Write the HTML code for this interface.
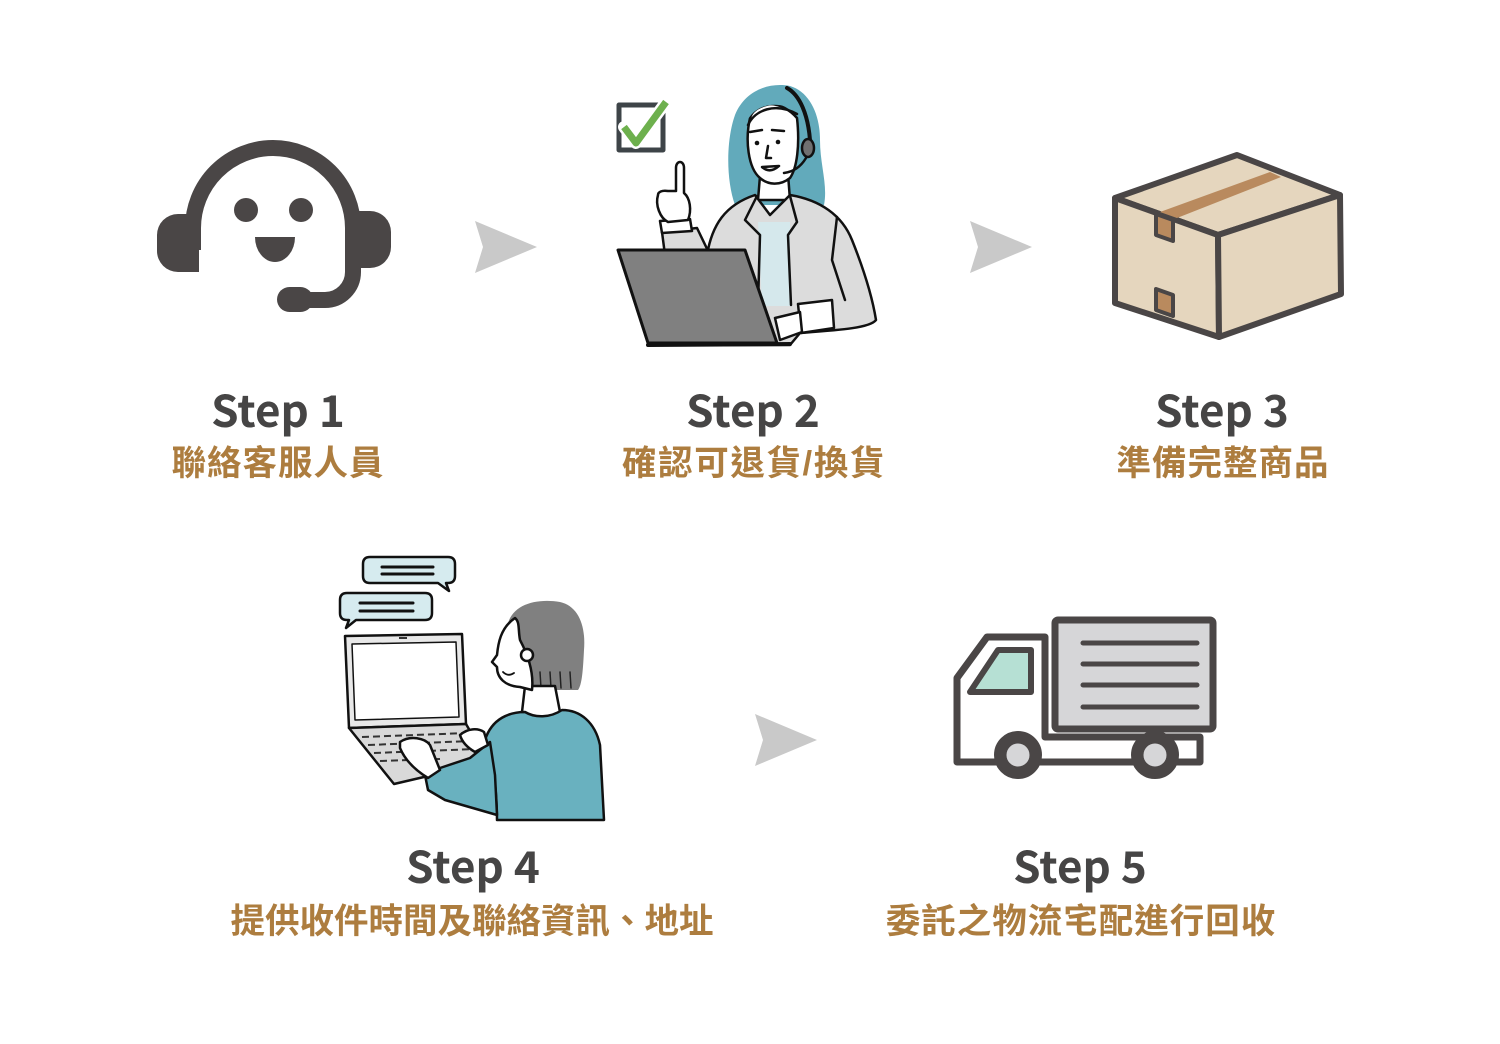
<!DOCTYPE html>
<html>
<head>
<meta charset="utf-8">
<style>
html,body{margin:0;padding:0;background:#fff;}
svg{display:block;}
.step{font-family:"Noto Sans CJK TC","Liberation Sans",sans-serif;font-weight:700;font-size:44px;fill:#464545;}
.zh{font-family:"Liberation Sans","Noto Sans CJK TC",sans-serif;font-weight:700;font-size:34.5px;fill:#ad7d3f;letter-spacing:1px;}
</style>
</head>
<body>
<svg width="1500" height="1044" viewBox="0 0 1500 1044" xmlns="http://www.w3.org/2000/svg">
<rect width="1500" height="1044" fill="#fff"/>

<!-- Step 1 headset -->
<g fill="#4a4646" stroke="none">
  <path d="M193,250 L193,228 A80,80 0 0 1 353,228 L353,272 A28,28 0 0 1 325,300 L300,300" fill="none" stroke="#4a4646" stroke-width="16"/>
  <rect x="277" y="287" width="36" height="25" rx="12.5"/>
  <path d="M199,214 L178,214 A21,21 0 0 0 157,235 L157,251 A21,21 0 0 0 178,272 L199,272 Z"/>
  <path d="M352,211 L370,211 A21,21 0 0 1 391,232 L391,247 A21,21 0 0 1 370,268 L352,268 Z"/>
  <circle cx="246" cy="210" r="12"/>
  <circle cx="301" cy="210" r="12"/>
  <path d="M255,237 L295,237 A20,25 0 0 1 255,237 Z"/>
</g>

<!-- arrows -->
<g fill="#c9c9c9">
  <polygon points="475,221 537,247 475,273 483,247"/>
  <polygon points="970,221 1032,247 970,273 978,247"/>
  <polygon points="755,714 817,740 755,766 763,740"/>
</g>

<!-- Step 2 woman -->
<g stroke="#111" stroke-width="2.5" stroke-linejoin="round" stroke-linecap="round">
  <rect x="619" y="105" width="44" height="45" fill="none" stroke="#3e4448" stroke-width="5" stroke-linecap="butt"/>
  <polyline points="624,127 636,143 666,102" fill="none" stroke="#fff" stroke-width="12"/>
  <polyline points="624,127 636,143 666,102" fill="none" stroke="#6db04d" stroke-width="7" stroke-linecap="butt"/>

  <path d="M735,205 C726,180 726,140 735,115 C745,90 770,82 790,86 C810,92 820,115 820,140 C820,165 828,185 824,205 Z" fill="#62aabb" stroke="none"/>
  <path d="M760,176 L758,200 L790,200 L788,174 Z" fill="#fff"/>
  <path d="M750,118 C745,140 748,168 760,178 C768,185 780,186 790,178 C797,168 800,145 797,118 C790,110 780,104 770,104 C760,106 752,110 750,118 Z" fill="#fff"/>
  <path d="M743,132 C748,108 770,96 800,112 L800,98 C780,86 752,92 743,112 Z" fill="#62aabb" stroke="none"/>
  <path d="M748,125 C755,110 775,102 797,114" fill="none"/>
  <circle cx="757" cy="143" r="2.3" fill="#111" stroke="none"/>
  <circle cx="778" cy="142" r="2.3" fill="#111" stroke="none"/>
  <path d="M750,132 L762,130 M772,130 L784,131" fill="none"/>
  <path d="M768,146 L766,158 L771,158" fill="none"/>
  <path d="M762,167 Q770,174 779,166 Z" fill="#fff"/>
  <path d="M787,88 C800,95 808,115 810,140" fill="none" stroke-width="4"/>
  <ellipse cx="808" cy="148" rx="6" ry="9" fill="#707070"/>
  <path d="M806,158 C800,168 792,172 784,173" fill="none"/>

  <path d="M707,255 C712,225 725,205 755,195 L770,215 L790,195 C820,200 842,215 852,240 C862,265 872,295 876,320 C870,328 840,330 800,333 L790,345 L707,345 Z" fill="#dcdcdc"/>
  <polygon points="758,222 790,222 790,306 762,306" fill="#d5e8ec" stroke="none"/>
  <path d="M757,196 L745,220 L760,235 L758,305 M790,196 L797,222 L788,235 L791,305" fill="none"/>
  <path d="M837,217 L832,260 L845,300" fill="none"/>
  <path d="M798,304 L832,300 L834,328 L801,333 Z" fill="#fff"/>
  <path d="M775,318 L800,312 L802,332 L780,340 Z" fill="#fff"/>

  <path d="M662,232 L697,228 L710,255 L665,255 Z" fill="#dcdcdc"/>
  <path d="M660,221 L690,219 L692,231 L662,233 Z" fill="#fff"/>
  <path d="M658,195 C655,205 660,218 668,222 L688,220 C692,210 690,198 684,193 L684,168 C684,160 676,160 676,168 L676,191 L668,191 C662,190 658,192 658,195 Z" fill="#fff"/>

  <polygon points="618,250 745,250 777,343 648,343" fill="#808080" stroke-width="3"/>
  <path d="M648,345 L790,344" fill="none" stroke-width="4"/>
</g>

<!-- Step 3 box -->
<g stroke="#4a4646" stroke-width="6" stroke-linejoin="round" fill="#e5d6be">
  <polygon points="1115,198 1237,155 1340,195 1218,235"/>
  <polygon points="1115,198 1218,235 1219,337 1115,303"/>
  <polygon points="1218,235 1340,195 1341,294 1219,337"/>
  <polygon points="1160,212 1177,218 1281,177 1270,172" fill="#b98a5e" stroke="none"/>
  <polygon points="1156,214 1173,220 1173,241 1156,235" fill="#b98a5e" stroke-width="4"/>
  <polygon points="1156,289 1173,295 1173,316 1156,310" fill="#b98a5e" stroke-width="4"/>
</g>

<!-- Step 4 person -->
<g stroke="#111" stroke-width="2.5" stroke-linejoin="round" stroke-linecap="round">
  <path d="M370,557 L448,557 Q455,557 455,564 L455,576 Q455,583 448,583 L446,583 L449,591 L438,583 L370,583 Q363,583 363,576 L363,564 Q363,557 370,557 Z" fill="#d6ebef"/>
  <path d="M382,567 L433,567 M382,574 L433,574" stroke-width="3"/>
  <path d="M347,593 L425,593 Q432,593 432,600 L432,613 Q432,620 425,620 L356,620 L346,628 L349,620 L347,620 Q340,620 340,613 L340,600 Q340,593 347,593 Z" fill="#d6ebef"/>
  <path d="M360,603 L413,603 M360,611 L413,611" stroke-width="3"/>

  <polygon points="345,636 462,634 466,724 349,728" fill="#e8e8e8"/>
  <polygon points="352,644 456,642 459,717 355,720" fill="#fff" stroke-width="1.5"/>
  <rect x="399" y="637" width="8" height="2" fill="#333" stroke="none"/>
  <polygon points="349,728 466,724 488,762 394,784" fill="#d9d9d9"/>
  <g stroke="#333" stroke-width="2" stroke-dasharray="7 4" fill="none" stroke-linecap="butt">
    <path d="M362,737 L468,733"/>
    <path d="M368,745 L472,741"/>
    <path d="M374,753 L476,749"/>
    <path d="M380,761 L440,759"/>
  </g>

  <path d="M507,628 C510,605 535,598 560,602 C578,606 586,625 584,650 C583,670 582,685 578,690 L532,690 C530,670 520,655 507,645 Z" fill="#808080" stroke="none"/>
  <path d="M540,672 L541,688 M550,672 L551,688 M560,672 L561,688 M570,672 L571,688" stroke="#222" stroke-width="1.5" fill="none"/>
  <path d="M525,686 L522,712 C535,720 550,718 560,712 L555,686 Z" fill="#fff"/>
  <path d="M515,618 C500,628 498,645 497,655 L492,662 L497,667 C497,678 505,686 520,687 L532,690 C534,672 528,655 520,640 C518,630 520,622 515,618 Z" fill="#fff"/>
  <circle cx="527" cy="655" r="6" fill="#fff"/>
  <path d="M503,672 Q508,677 514,673" fill="none" stroke-width="1.8"/>
  <path d="M485,740 C492,718 510,712 525,712 C535,718 550,718 562,710 C580,710 595,722 600,745 L604,820 L497,820 C497,800 495,780 492,760 Z" fill="#69b1bf"/>
  <path d="M490,742 L470,758 L440,768 L425,775 L428,790 L445,800 L497,815 L495,775 Z" fill="#69b1bf"/>
  <path d="M400,742 C410,735 425,738 430,745 L440,770 L428,778 C415,770 405,760 400,748 Z" fill="#fff"/>
  <path d="M460,735 C468,728 478,728 484,732 L488,745 L475,752 C468,748 462,742 460,735 Z" fill="#fff"/>
</g>

<!-- Step 5 truck -->
<g stroke="#4a4646" stroke-width="7" stroke-linejoin="round">
  <path d="M957,762 L957,678 L987,637 L1045,637 L1045,737 L1200,737 L1200,762 Z" fill="#fff"/>
  <rect x="1055" y="620" width="158" height="109" rx="3" fill="#d6d6d8"/>
  <path d="M1083,643 L1197,643 M1083,664 L1197,664 M1083,685 L1197,685 M1083,707 L1197,707" stroke-width="5" stroke-linecap="round"/>
  <polygon points="970,692 998,650 1031,650 1031,692" fill="#b6e0d4" stroke-width="6"/>
  <circle cx="1018" cy="755" r="20" fill="#d6d6d8" stroke-width="8"/>
  <circle cx="1155" cy="755" r="20" fill="#d6d6d8" stroke-width="8"/>
</g>
<g fill="none" stroke="#4a4646" stroke-width="9">
  <circle cx="1018" cy="755" r="16"/>
  <circle cx="1155" cy="755" r="16"/>
</g>

<!-- Labels -->
<g text-anchor="middle">
  <text class="step" x="278" y="427">Step 1</text>
  <text class="zh" x="278" y="475">聯絡客服人員</text>
  <text class="step" x="753" y="427">Step 2</text>
  <text class="zh" x="754" y="475" style="letter-spacing:1.6px">確認可退貨/換貨</text>
  <text class="step" x="1222" y="427">Step 3</text>
  <text class="zh" x="1223" y="475">準備完整商品</text>
  <text class="step" x="473" y="883">Step 4</text>
  <text class="zh" x="472" y="933" style="letter-spacing:0">提供收件時間及聯絡資訊、地址</text>
  <text class="step" x="1080" y="883">Step 5</text>
  <text class="zh" x="1081" y="933">委託之物流宅配進行回收</text>
</g>
</svg>
</body>
</html>
